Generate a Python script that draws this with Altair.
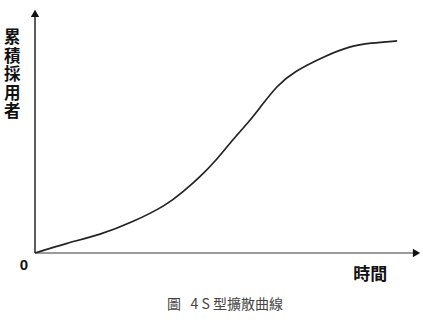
import altair as alt
import pandas as pd

# S-curve (time 0-100, cumulative adopters 0-100)
time = [0, 8.4, 17.1, 25.8, 34.7, 38.9, 43.4, 47.9, 52.1, 56.6, 59.2, 63.7, 67.9, 76.8, 82.9, 88.2, 95.3]
adopters = [0, 4.1, 7.4, 12.7, 19.7, 25.0, 31.1, 38.4, 46.6, 54.3, 59.6, 68.6, 74.2, 81.1, 84.8, 86.1, 86.9]

y_label = "累\n積\n採\n用\n者"
x_label = "時間"
origin_label = "0"
caption = "圖\u00a0\u00a0 4\u00a0S\u00a0型擴散曲線"

curve = pd.DataFrame({"t": time, "a": adopters})

xs = alt.Scale(domain=[0, 100])
ys = alt.Scale(domain=[0, 100])
X = lambda f: alt.X(f, type="quantitative", scale=xs, axis=None)
Y = lambda f: alt.Y(f, type="quantitative", scale=ys, axis=None)

axes_df = pd.DataFrame({"x0": [0, 0], "x1": [100, 0], "y0": [0, 0], "y1": [0, 98],
                        "c": ["#7a7a7a", "#333333"]})
rules = alt.Chart(axes_df).mark_rule(strokeWidth=1.6).encode(
    x=X("x0"), x2="x1", y=Y("y0"), y2="y1", color=alt.Color("c:N", scale=None))

arrows_df = pd.DataFrame({"x": [100.4, 0], "y": [0, 98.2], "s": ["triangle-right", "triangle-up"]})
arrows = alt.Chart(arrows_df).mark_point(filled=True, opacity=1, size=70, color="#111").encode(
    x=X("x"), y=Y("y"), shape=alt.Shape("s:N", scale=None))

line = alt.Chart(curve).mark_line(interpolate="basis", color="#222", strokeWidth=1.7).encode(
    x=X("t"), y=Y("a"))

lab_df = pd.DataFrame({"x": [-6.0], "y": [91.4], "txt": [y_label]})
ylab = alt.Chart(lab_df).mark_text(font="Noto Sans CJK TC", fontWeight="bold", fontSize=16.5,
                                   lineBreak="\n", lineHeight=18.6, baseline="top",
                                   color="#111").encode(x=X("x"), y=Y("y"), text="txt:N")

xl_df = pd.DataFrame({"x": [88.2], "y": [0], "txt": [x_label]})
xlab = alt.Chart(xl_df).mark_text(font="Noto Sans CJK TC", fontWeight="bold", fontSize=17,
                                  dy=22, color="#111").encode(x=X("x"), y=Y("y"), text="txt:N")

o_df = pd.DataFrame({"x": [0], "y": [0], "txt": [origin_label]})
olab = alt.Chart(o_df).mark_text(font="Liberation Sans", fontWeight="bold", fontSize=15,
                                 dx=-11, dy=12, color="#111").encode(x=X("x"), y=Y("y"), text="txt:N")

chart = alt.layer(rules, line, arrows, ylab, xlab, olab).properties(
    width=380, height=244,
    title=alt.TitleParams(caption, orient="bottom", anchor="middle", fontSize=14,
                          font="Noto Sans CJK TC", fontWeight="normal", color="#444", offset=15),
    autosize=alt.AutoSizeParams(type="none"),
    padding={"left": 35, "top": 9, "right": 8, "bottom": 72},
).configure_view(stroke=None)

chart.save("out.html", embed_options={"renderer": "svg", "actions": False})
